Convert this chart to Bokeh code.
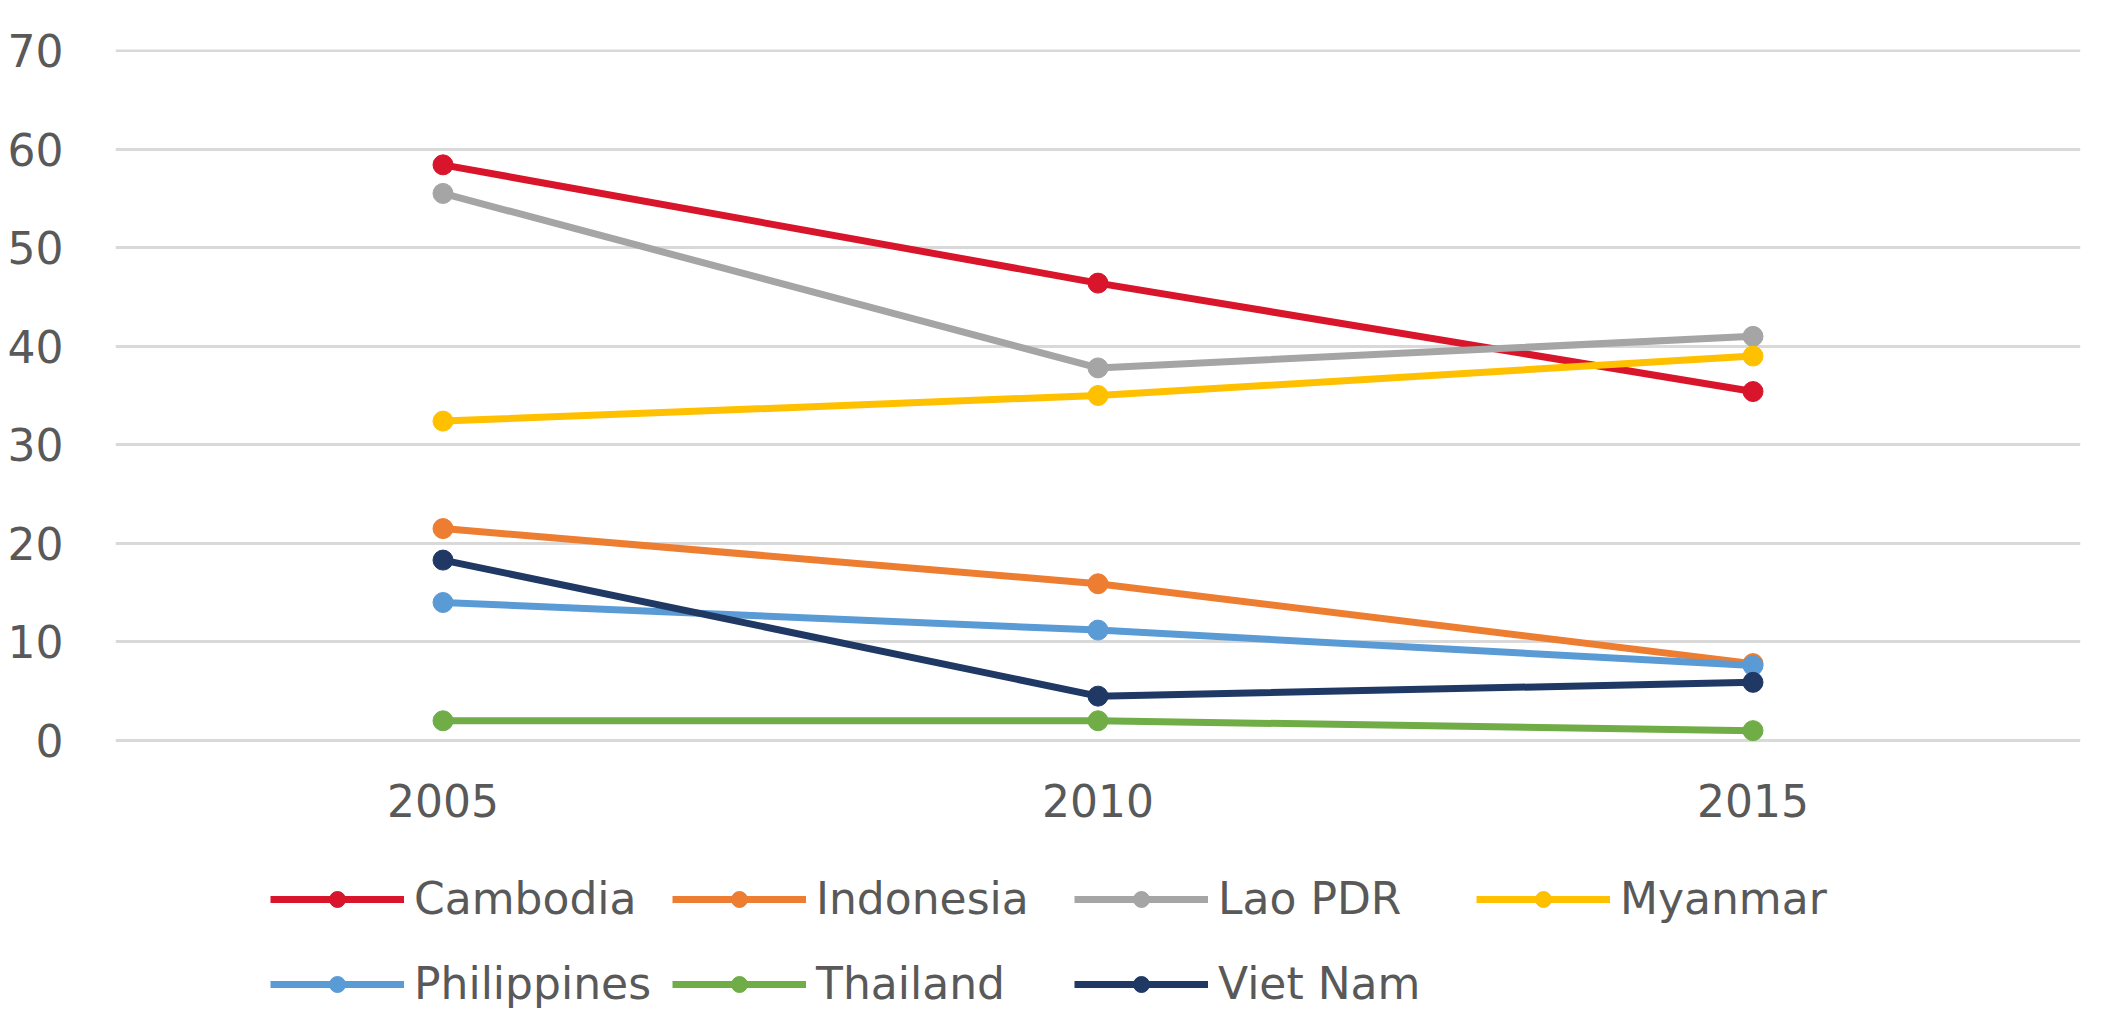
from bokeh.plotting import figure
from bokeh.models import Range1d, FactorRange, Legend, LegendItem, FixedTicker
from bokeh.core.properties import value
from bokeh.embed import file_html
from bokeh.resources import INLINE

years = ["2005", "2010", "2015"]
y_ticks = [0, 10, 20, 30, 40, 50, 60, 70]

cambodia = [58.4, 46.4, 35.4]
indonesia = [21.5, 15.9, 7.8]
lao_pdr = [55.5, 37.8, 41.0]
myanmar = [32.4, 35.0, 39.0]
philippines = [14.0, 11.2, 7.6]
thailand = [2.0, 2.0, 1.0]
viet_nam = [18.3, 4.5, 5.9]

series = [
    ("Cambodia", cambodia, "#D9152B"),
    ("Indonesia", indonesia, "#ED7D31"),
    ("Lao PDR", lao_pdr, "#A5A5A5"),
    ("Myanmar", myanmar, "#FFC000"),
    ("Philippines", philippines, "#5B9BD5"),
    ("Thailand", thailand, "#70AD47"),
    ("Viet Nam", viet_nam, "#1F3864"),
]

TEXT = "#595959"
FONT = "DejaVu Sans"

# The frame runs down to the bottom edge so the legend underneath the
# category labels stays inside the drawable area; only 0..70 is gridded.
p = figure(
    width=2125, height=1023,
    x_range=FactorRange(*years, range_padding=0),
    y_range=Range1d(-28.71, 70.10),
    output_backend="svg", toolbar_location=None,
    min_border_left=115, min_border_right=45,
    min_border_top=49, min_border_bottom=0,
)
p.outline_line_color = None
p.background_fill_color = "white"
p.border_fill_color = "white"

p.xaxis.visible = False
p.xgrid.grid_line_color = None
p.ygrid.grid_line_color = "#D9D9D9"
p.ygrid.grid_line_width = 3

yax = p.yaxis[0]
yax.ticker = FixedTicker(ticks=y_ticks)
yax.axis_line_color = None
yax.major_tick_line_color = None
yax.minor_tick_line_color = None
yax.major_tick_out = 0
yax.minor_tick_out = 0
yax.major_label_text_font = FONT
yax.major_label_text_font_size = "44px"
yax.major_label_text_color = TEXT
yax.major_label_standoff = 52

# category labels under the zero line
p.text(x=years, y=[0] * len(years), text=years, y_offset=60,
       text_align="center", text_baseline="middle",
       text_font=value(FONT), text_font_size="44px", text_color=TEXT)

items = []
for name, vals, color in series:
    ln = p.line(years, vals, line_color=color, line_width=7)
    mk = p.scatter(years, vals, size=20, fill_color=color, line_color=color)
    items.append(LegendItem(label=name, renderers=[ln, mk]))

legend = Legend(
    items=items,
    orientation="horizontal",
    ncols=4,
    location=(155, 0),
    glyph_width=134,
    glyph_height=40,
    label_width=252,
    label_height=79,
    label_standoff=10,
    spacing=6,
    padding=0,
    margin=0,
    border_line_color=None,
    background_fill_alpha=0,
    label_text_font=FONT,
    label_text_font_size="44px",
    label_text_color=TEXT,
)
p.add_layout(legend, "center")

open("out.html", "w").write(file_html(p, INLINE))
